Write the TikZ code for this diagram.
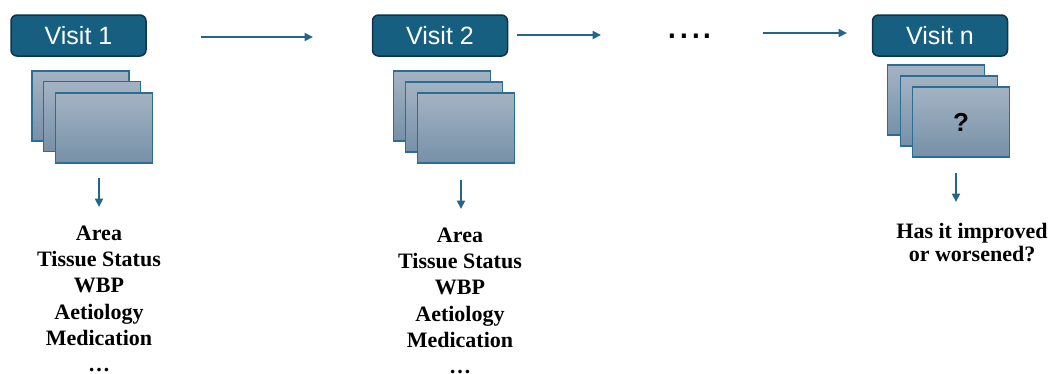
\documentclass[tikz,border=0pt]{standalone}
\usepackage{fontspec}
\setmainfont{Liberation Serif}
\newfontfamily\arialf{Liberation Sans}
\usetikzlibrary{arrows.meta}
\definecolor{boxfill}{HTML}{175F80}
\definecolor{boxline}{HTML}{0E3447}
\definecolor{pagetop}{HTML}{A4B3C3}
\definecolor{pagebot}{HTML}{7690A8}
\definecolor{pageline}{HTML}{2C6E93}
\definecolor{arrowc}{HTML}{236688}
\begin{document}
\begin{tikzpicture}[x=1pt,y=-1pt,
 visit/.style={draw=boxline, line width=1.5pt, fill=boxfill, rounded corners=6pt, minimum width=135pt, minimum height=41pt, inner sep=0pt, text=white, font=\arialf\fontsize{25}{30}\selectfont},
 page/.style={draw=pageline, line width=1.3pt, top color=pagetop, bottom color=pagebot, minimum width=97pt, minimum height=70pt, inner sep=0pt},
 flow/.style={draw=arrowc, line width=2.2pt, -{Triangle[length=8.5pt,width=8pt]}},
 info/.style={align=center, font=\bfseries\fontsize{22}{26.3}\selectfont, inner sep=0pt, anchor=north}
]
\useasboundingbox (0,0) rectangle (1049,373);

% visit boxes
\node[visit] (v1) at (78.5,35.5) {Visit 1};
\node[visit] (v2) at (440,35.5) {Visit 2};
\node[visit] (vn) at (940,35.5) {Visit n};

% stacks
\node[page] (s1a) at (80.5,106) {};
\node[page] (s1b) at (92,116.5) {};
\node[page] (s1c) at (104,128) {};
\node[page] (s2a) at (442,106) {};
\node[page] (s2b) at (454,117) {};
\node[page] (s2c) at (466,128) {};
\node[page] (sna) at (936,100) {};
\node[page] (snb) at (949,111) {};
\node[page, font=\arialf\bfseries\fontsize{26}{30}\selectfont] (snc) at (961,122) {?};

% horizontal arrows
\coordinate (h1s) at (201,37);
\coordinate (h1e) at (313,37);
\coordinate (h2s) at (517,35);
\coordinate (h2e) at (601,35);
\coordinate (h3s) at (763,33);
\coordinate (h3e) at (847,33);
\draw[flow] (h1s) -- (h1e);
\draw[flow] (h2s) -- (h2e);
\draw[flow] (h3s) -- (h3e);
\node[font=\arialf\fontsize{42}{42}\selectfont, anchor=base] (dots) at (690,38) {....};

% down arrows
\coordinate (d1s) at (99,178);
\coordinate (d1e) at (99,207);
\coordinate (d2s) at (461,180);
\coordinate (d2e) at (461,209);
\coordinate (d3s) at (956,173);
\coordinate (d3e) at (956,202);
\draw[flow] (d1s) -- (d1e);
\draw[flow] (d2s) -- (d2e);
\draw[flow] (d3s) -- (d3e);

% texts
\node[info] (t1) at (99,225.5) {Area\\Tissue Status\\WBP\\Aetiology\\Medication\\…};
\node[info] (t2) at (460,227.5) {Area\\Tissue Status\\WBP\\Aetiology\\Medication\\…};
\node[info, font=\bfseries\fontsize{22}{23.5}\selectfont] (tn) at (972,223) {Has it improved\\or worsened?};
\end{tikzpicture}
\end{document}
